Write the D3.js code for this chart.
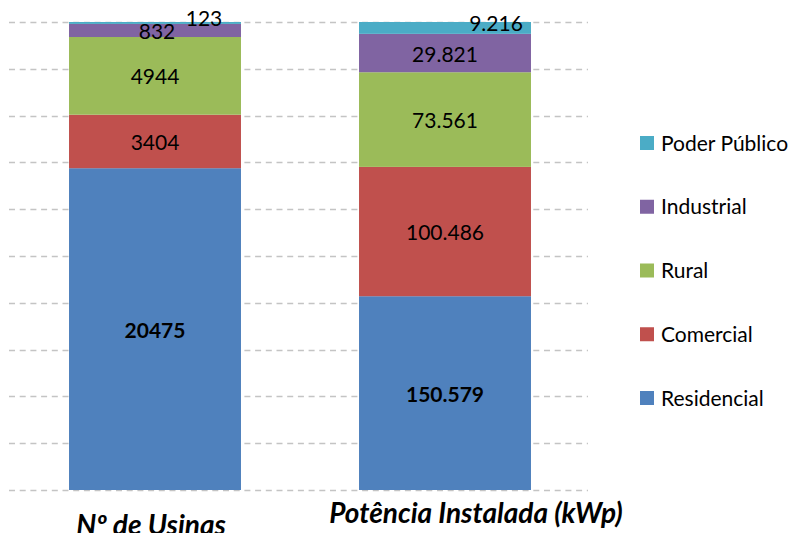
<!DOCTYPE html>
<html>
<head>
<meta charset="utf-8">
<script src="https://cdn.jsdelivr.net/npm/d3@7"></script>
<style>
  body { margin: 0; background: #fff; }
  svg { font-family: Lato, "Open Sans", sans-serif; }
</style>
</head>
<body>
<svg id="chart" width="797" height="533"></svg>
<script>
// data
var categories = ["Nº de Usinas", "Potência Instalada (kWp)"];
var seriesNames = ["Residencial", "Comercial", "Rural", "Industrial", "Poder Público"];
var usinas = [20475, 3404, 4944, 832, 123];
var potencia = [150.579, 100.486, 73.561, 29.821, 9.216];
var usinasLabels = ["20475", "3404", "4944", "832", "123"];
var potenciaLabels = ["150.579", "100.486", "73.561", "29.821", "9.216"];
var colors = ["#4F81BD", "#C0504D", "#9BBB59", "#8064A2", "#4BACC6"];

var margin = { top: 22, right: 207, bottom: 43, left: 10 };
var width = 797 - margin.left - margin.right;
var height = 533 - margin.top - margin.bottom;

var svg = d3.select("#chart");
var g = svg.append("g").attr("transform", "translate(" + margin.left + "," + margin.top + ")");

// build table, normalised to 100%
var values = [usinas, potencia];
var labels = [usinasLabels, potenciaLabels];
var rows = categories.map(function (c, i) {
    var total = d3.sum(values[i]);
    var r = { cat: c };
    seriesNames.forEach(function (s, j) { r[s] = values[i][j] / total; });
    return r;
});

var stack = d3.stack().keys(seriesNames);
var layers = stack(rows);

var x = d3.scaleBand().domain(categories).range([0, width]).paddingInner(0.407).paddingOuter(0.2035);
var y = d3.scaleLinear().domain([0, 1]).range([height, 0]);

// dashed gridlines
g.append("g")
    .selectAll("line")
    .data(d3.range(0, 1.0001, 0.1))
    .enter().append("line")
    .attr("x1", -1).attr("x2", width - 2)
    .attr("y1", function (d) { return Math.round(y(d)) + 0.5; })
    .attr("y2", function (d) { return Math.round(y(d)) + 0.5; })
    .attr("stroke", "#c4c4c4")
    .attr("stroke-width", 1.4)
    .attr("stroke-dasharray", "6,4.7");

// bars
var layerG = g.selectAll(".layer")
    .data(layers)
    .enter().append("g")
    .attr("fill", function (d, i) { return colors[i]; });

layerG.selectAll("rect")
    .data(function (d) { return d; })
    .enter().append("rect")
    .attr("x", function (d) { return x(d.data.cat); })
    .attr("width", x.bandwidth())
    .attr("y", function (d) { return y(d[1]); })
    .attr("height", function (d) { return y(d[0]) - y(d[1]); });

// label nudges for tiny segments (label text -> dx, dy)
var nudge = { "123": [49, -5], "832": [2, 1], "9.216": [51, -4.5] };

layers.forEach(function (layer, si) {
    layer.forEach(function (d, ci) {
        var txt = labels[ci][si];
        var off = nudge[txt] || [0, 1];
        g.append("text")
            .attr("x", x(d.data.cat) + x.bandwidth() / 2 + off[0])
            .attr("y", (y(d[0]) + y(d[1])) / 2 + off[1])
            .attr("dy", "0.36em")
            .attr("text-anchor", "middle")
            .attr("font-size", 21)
            .attr("font-weight", si === 0 ? "bold" : "normal")
            .attr("fill", "#000")
            .text(txt);
    });
});

// category labels (the right one sits off-centre in the original)
var catPos = [[151, 535], [476, 523]];
categories.forEach(function (c, i) {
    svg.append("text")
        .attr("x", catPos[i][0])
        .attr("y", catPos[i][1])
        .attr("text-anchor", "middle")
        .attr("font-size", 28)
        .attr("font-weight", "bold")
        .attr("font-style", "italic")
        .attr("fill", "#000")
        .text(c);
});

// legend, reversed order
var legend = svg.append("g").attr("transform", "translate(640,143)");
var legItems = seriesNames.slice().reverse();
legItems.forEach(function (s, i) {
    var row = legend.append("g").attr("transform", "translate(0," + (i * 63.75) + ")");
    row.append("rect")
        .attr("x", 0).attr("y", -7)
        .attr("width", 14).attr("height", 14)
        .attr("fill", colors[seriesNames.indexOf(s)]);
    row.append("text")
        .attr("x", 21).attr("y", 0)
        .attr("dy", "0.36em")
        .attr("font-size", 21)
        .attr("fill", "#000")
        .text(s);
});
</script>
</body>
</html>
